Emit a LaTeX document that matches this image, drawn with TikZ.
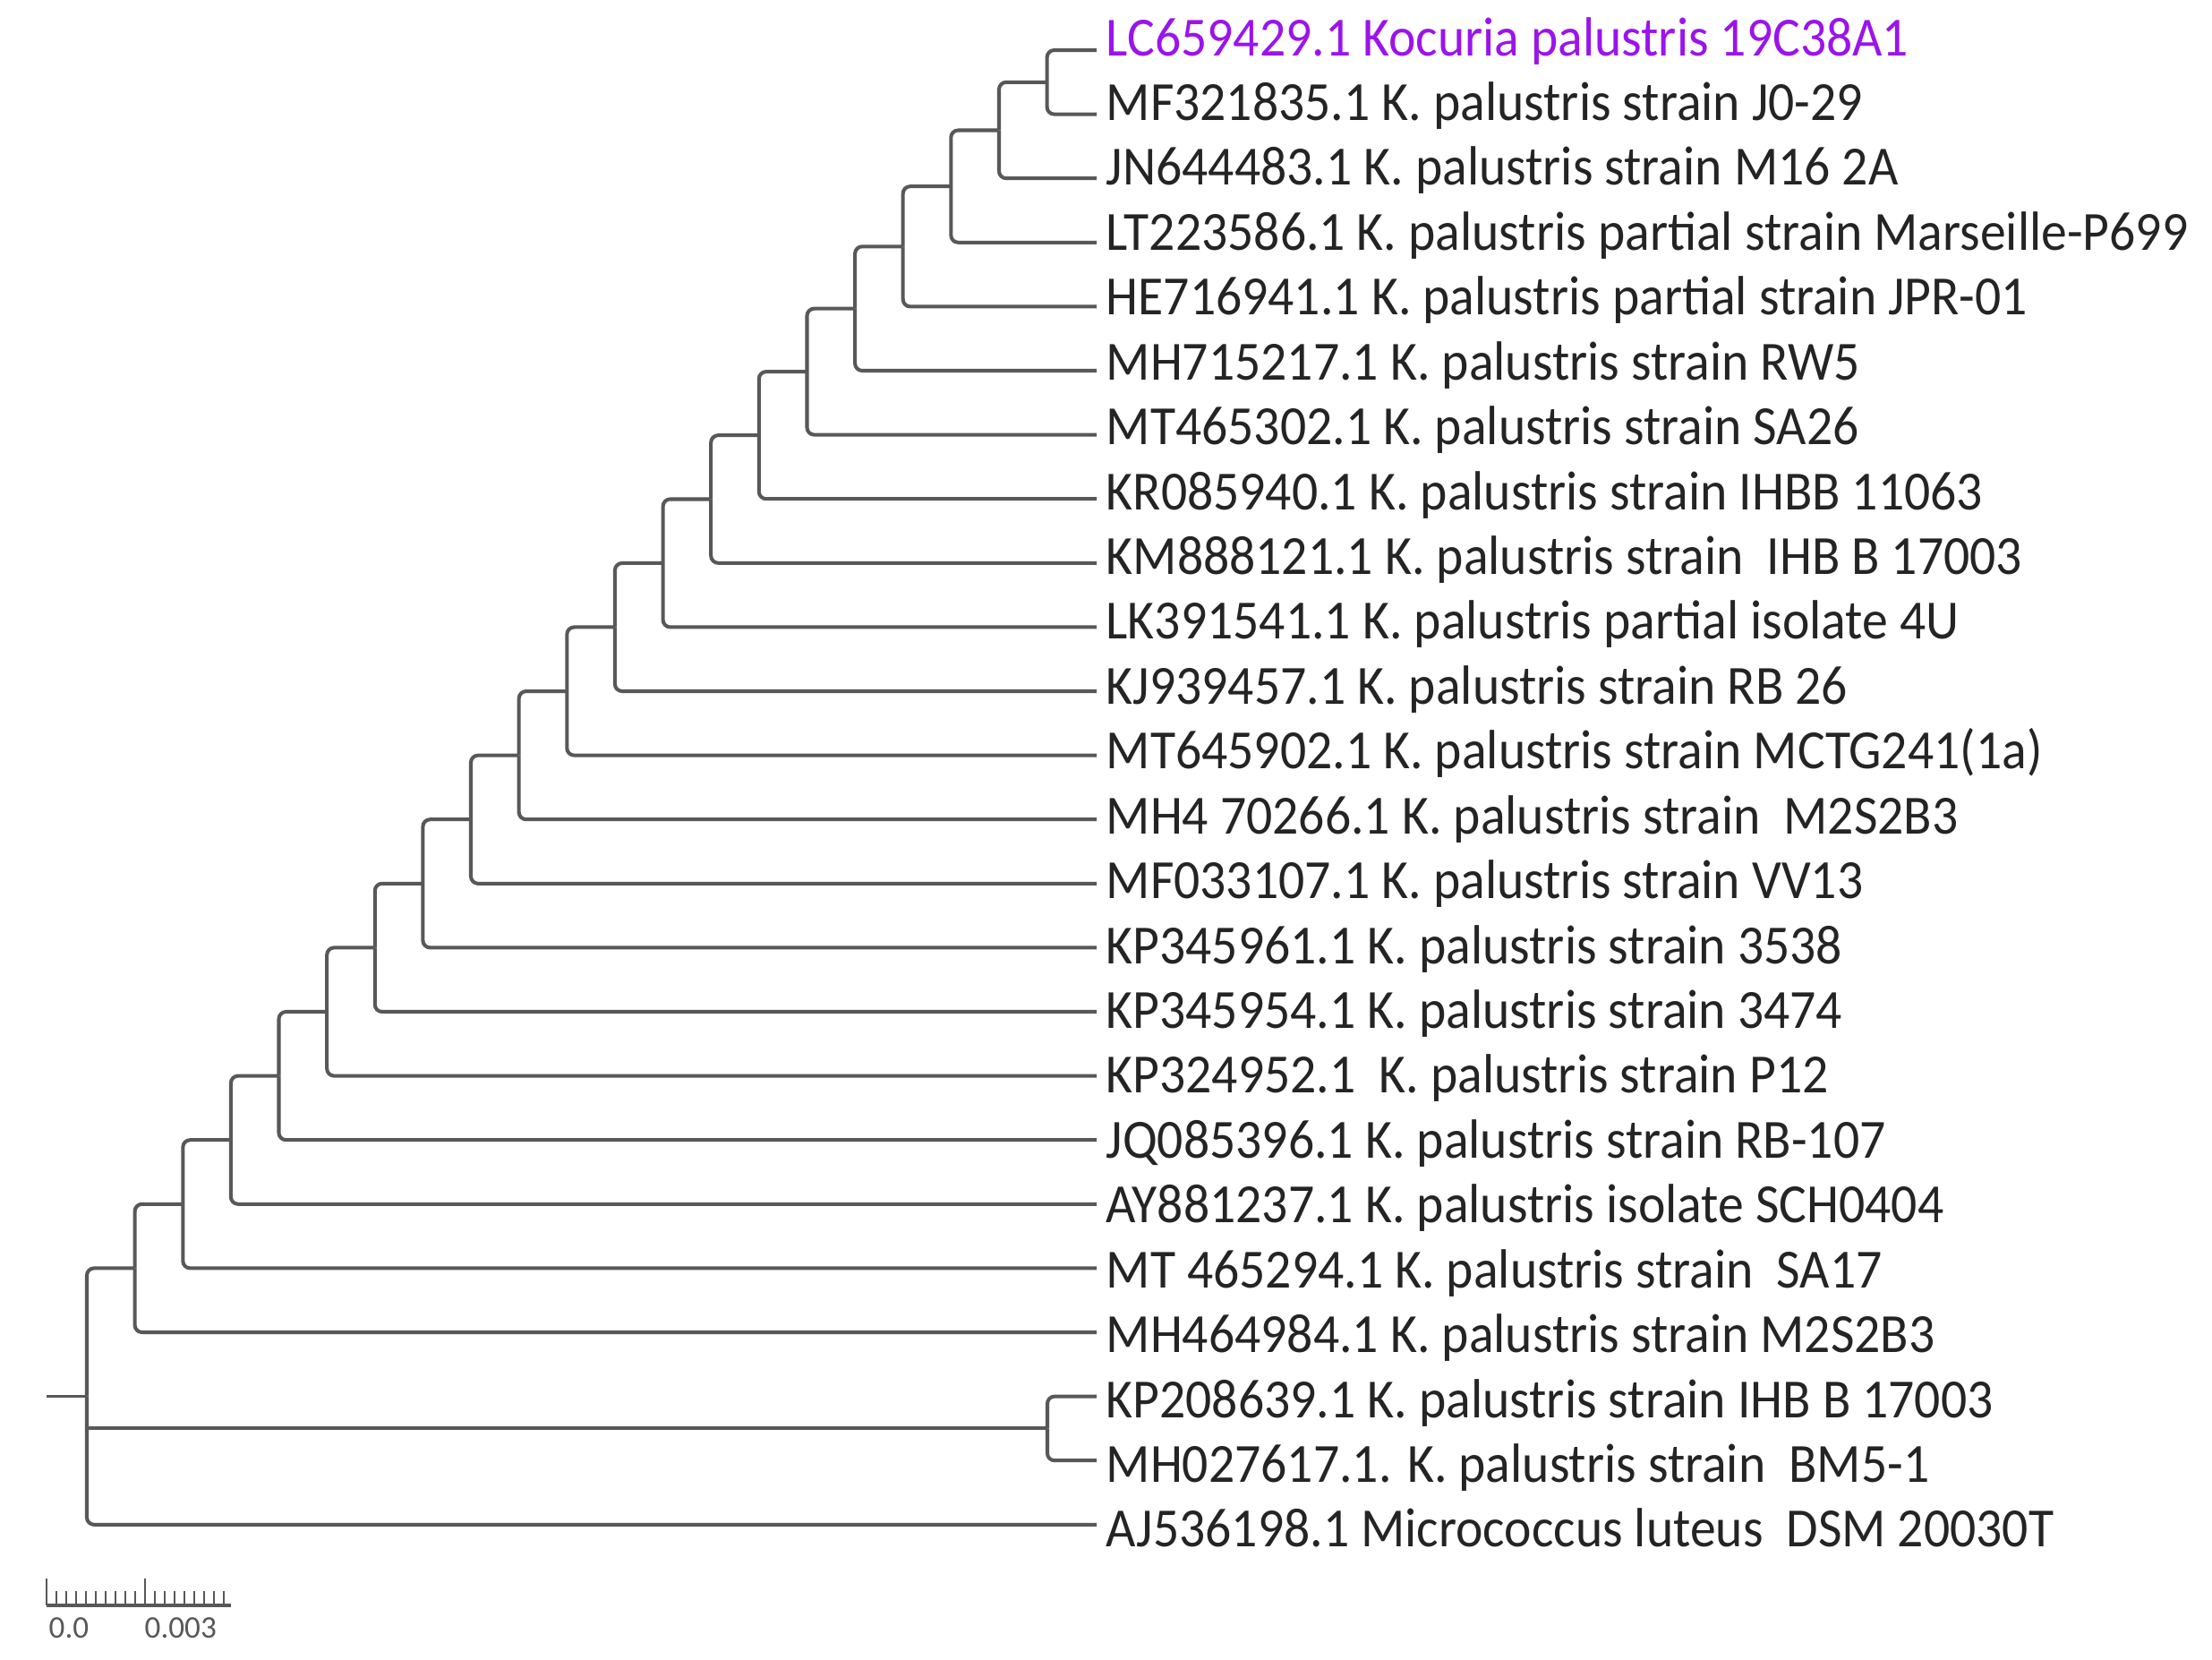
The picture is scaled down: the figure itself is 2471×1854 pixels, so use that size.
\documentclass[tikz,border=0pt]{standalone}
\usepackage{graphicx}
\usepackage{fontspec}
\setmainfont{Carlito}
\definecolor{branchc}{RGB}{88,88,88}
\definecolor{txtc}{RGB}{36,36,36}
\definecolor{hilite}{RGB}{155,20,235}
\newcommand{\leaftxt}[1]{\scalebox{1}[1.07]{#1}}
\begin{document}
\begin{tikzpicture}[x=0.01cm,y=-0.01cm,
  branch/.style={draw=branchc, line width=1.15pt, rounded corners=2.3pt},
  roottick/.style={draw=branchc, line width=0.8pt},
  lab/.style={anchor=base west, inner sep=0pt,
    font=\fontsize{16.4}{19}\selectfont, text=txtc},
  hl/.style={lab, text=hilite},
  sbar/.style={draw=branchc, line width=0.9pt},
  stick/.style={draw=branchc, line width=0.6pt},
  scl/.style={anchor=west, inner sep=0pt, font=\fontsize{10}{12}\selectfont, text=branchc}]
\useasboundingbox (0,0) rectangle (2471,1854);

% leaf ends (where branches meet the labels)
\foreach \i in {1,...,24}{
  \coordinate (e\i) at (1225,{56+(\i-1)*71.6});
}

% leaf labels
\node[hl]  (l1)  at (1235,62)      {\leaftxt{LC659429.1 Kocuria palustris 19C38A1}};
\node[lab] (l2)  at (1235,134.43)  {\leaftxt{MF321835.1 K. palustris strain J0-29}};
\node[lab] (l3)  at (1235,206.86)  {\leaftxt{JN644483.1 K. palustris strain M16 2A}};
\node[lab] (l4)  at (1235,279.29)  {\leaftxt{LT223586.1 K. palustris partial strain Marseille-P699}};
\node[lab] (l5)  at (1235,351.72)  {\leaftxt{HE716941.1 K. palustris partial strain JPR-01}};
\node[lab] (l6)  at (1235,424.15)  {\leaftxt{MH715217.1 K. palustris strain RW5}};
\node[lab] (l7)  at (1235,496.58)  {\leaftxt{MT465302.1 K. palustris strain SA26}};
\node[lab] (l8)  at (1235,569.01)  {\leaftxt{KR085940.1 K. palustris strain IHBB 11063}};
\node[lab] (l9)  at (1235,641.44)  {\leaftxt{KM888121.1 K. palustris strain\ \ IHB B 17003}};
\node[lab] (l10) at (1235,713.87)  {\leaftxt{LK391541.1 K. palustris partial isolate 4U}};
\node[lab] (l11) at (1235,786.3)   {\leaftxt{KJ939457.1 K. palustris strain RB 26}};
\node[lab] (l12) at (1235,858.73)  {\leaftxt{MT645902.1 K. palustris strain MCTG241(1a)}};
\node[lab] (l13) at (1235,931.16)  {\leaftxt{MH4 70266.1 K. palustris strain\ \ M2S2B3}};
\node[lab] (l14) at (1235,1003.59) {\leaftxt{MF033107.1 K. palustris strain VV13}};
\node[lab] (l15) at (1235,1076.02) {\leaftxt{KP345961.1 K. palustris strain 3538}};
\node[lab] (l16) at (1235,1148.45) {\leaftxt{KP345954.1 K. palustris strain 3474}};
\node[lab] (l17) at (1235,1220.88) {\leaftxt{KP324952.1\ \ K. palustris strain P12}};
\node[lab] (l18) at (1235,1293.31) {\leaftxt{JQ085396.1 K. palustris strain RB-107}};
\node[lab] (l19) at (1235,1365.74) {\leaftxt{AY881237.1 K. palustris isolate SCH0404}};
\node[lab] (l20) at (1235,1438.17) {\leaftxt{MT 465294.1 K. palustris strain\ \ SA17}};
\node[lab] (l21) at (1235,1510.6)  {\leaftxt{MH464984.1 K. palustris strain M2S2B3}};
\node[lab] (l22) at (1235,1583.03) {\leaftxt{KP208639.1 K. palustris strain IHB B 17003}};
\node[lab] (l23) at (1235,1655.46) {\leaftxt{MH027617.1. K. palustris strain\ \ BM5-1}};
\node[lab] (l24) at (1235,1727.89) {\leaftxt{AJ536198.1 Micrococcus luteus\ \ DSM 20030T}};

% internal nodes
\coordinate (n21) at (1169.6,91.8);
\coordinate (n20) at (1116.0,145.5);
\coordinate (n19) at (1062.3,208.15);
\coordinate (n18) at (1008.7,275.28);
\coordinate (n17) at (955.1,344.63);
\coordinate (n16) at (901.5,415.12);
\coordinate (n15) at (847.8,486.16);
\coordinate (n14) at (794.2,557.48);
\coordinate (n13) at (740.6,628.94);
\coordinate (n12) at (686.9,700.47);
\coordinate (n11) at (633.3,772.04);
\coordinate (n10) at (579.7,843.6);
\coordinate (n9)  at (526.0,915.2);
\coordinate (n8)  at (472.4,986.8);
\coordinate (n7)  at (418.8,1058.4);
\coordinate (n6)  at (365.2,1130);
\coordinate (n5)  at (311.5,1201.6);
\coordinate (n4)  at (257.9,1273.2);
\coordinate (n3)  at (204.3,1344.8);
\coordinate (n2)  at (150.6,1416.4);
\coordinate (kp)  at (1170,1595.4);
\coordinate (root) at (97,1559.6);
\coordinate (rt)  at (52,1559.6);

% branches
\draw[branch] (n21) |- (e1);
\draw[branch] (n21) |- (e2);
\foreach \k [evaluate=\k as \kk using int(\k+1), evaluate=\k as \lf using int(23-\k)] in {2,...,20}{
  \draw[branch] (n\k) |- (n\kk);
  \draw[branch] (n\k) |- (e\lf);
}
\draw[branch] (kp) |- (e22);
\draw[branch] (kp) |- (e23);
\draw[branch] (root) |- (n2);
\draw[branch] (root) |- (e24);
\draw[branch] (root |- kp) -- (kp);
\draw[roottick] (rt) -- (root);

% scale bar
\draw[sbar] (52,1793) -- (258,1793);
\foreach \j in {1,...,9,11,12,...,18}{
  \draw[stick] ({52+11*\j},1793) -- ({52+11*\j},1777);
}
\draw[stick] (52,1793) -- (52,1763);
\draw[stick] (162,1793) -- (162,1763);
\node[scl] (s0) at (54,1818) {0.0};
\node[scl] (s3) at (161,1818) {0.003};
\end{tikzpicture}
\end{document}
